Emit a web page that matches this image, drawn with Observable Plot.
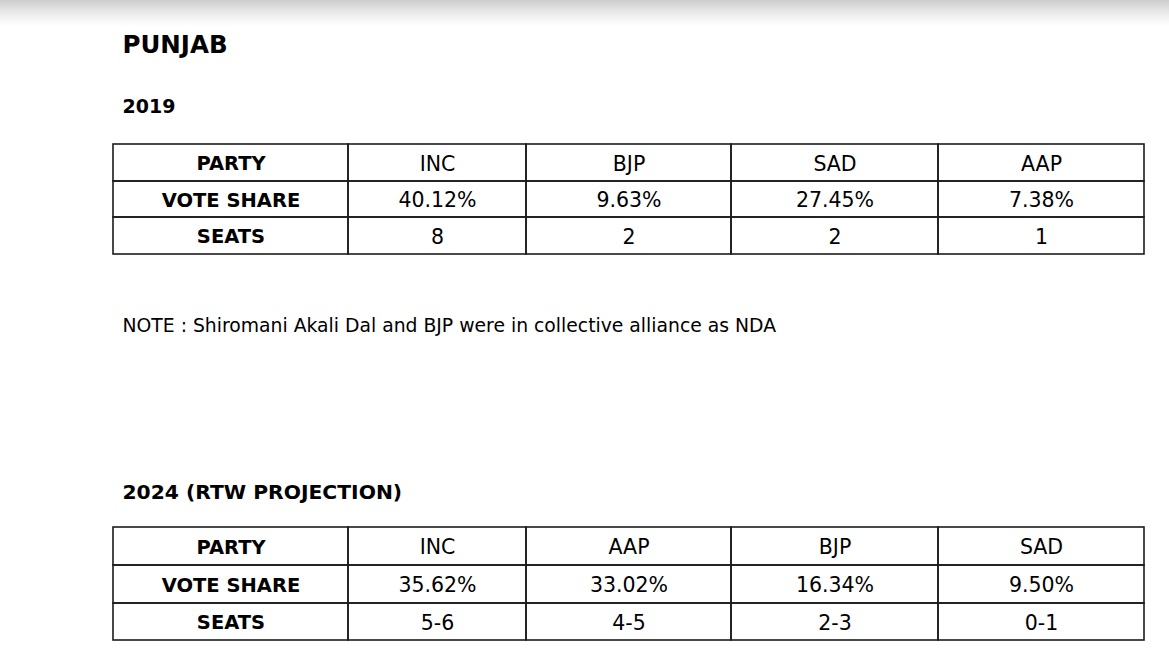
<!DOCTYPE html>
<html>
<head>
<meta charset="utf-8">
<script src="https://cdn.jsdelivr.net/npm/d3@7"></script>
<script src="https://cdn.jsdelivr.net/npm/@observablehq/plot@0.6"></script>
<style>
  html, body { margin: 0; padding: 0; }
  body {
    width: 1169px; height: 669px; overflow: hidden;
    background: linear-gradient(to bottom, #cdcdcd 0px, #ececec 14px, #ffffff 26px) no-repeat;
    background-color: #fff;
  }
  #chart svg { display: block; }
</style>
</head>
<body>
<div id="chart"></div>
<script>
// ---- data ----
const stateName = "PUNJAB";
const section2019 = "2019";
const section2024 = "2024 (RTW PROJECTION)";
const rowLabels = ["PARTY", "VOTE SHARE", "SEATS"];
const parties2019 = ["INC", "BJP", "SAD", "AAP"];
const voteShare2019 = [40.12, 9.63, 27.45, 7.38];
const seats2019 = ["8", "2", "2", "1"];
const note2019 = "NOTE : Shiromani Akali Dal and BJP were in collective alliance as NDA";
const parties2024 = ["INC", "AAP", "BJP", "SAD"];
const voteShare2024 = [35.62, 33.02, 16.34, 9.50];
const seats2024 = ["5-6", "4-5", "2-3", "0-1"];

// ---- layout (pixel positions) ----
const W = 1169, H = 669;
const colEdges = [113, 348, 526, 731, 938, 1144];
const rowEdges2019 = [144, 181, 217, 254];
const rowEdges2024 = [527, 565, 603, 640];
const textLeft = 122;
const fmtPct = v => d3.format(".2f")(v) + "%";

function buildTable(parties, shares, seats, rowEdges) {
  const rows = [parties, shares.map(fmtPct), seats];
  const cells = [];
  rows.forEach((vals, r) => {
    [rowLabels[r], ...vals].forEach((t, c) => {
      cells.push({
        x1: colEdges[c], x2: colEdges[c + 1],
        y1: rowEdges[r], y2: rowEdges[r + 1],
        xm: (colEdges[c] + colEdges[c + 1]) / 2,
        ym: (rowEdges[r] + rowEdges[r + 1]) / 2 + 1,
        text: t, bold: c === 0
      });
    });
  });
  return cells;
}

const cells = [
  ...buildTable(parties2019, voteShare2019, seats2019, rowEdges2019),
  ...buildTable(parties2024, voteShare2024, seats2024, rowEdges2024)
];

const titleRow = [{text: stateName, x: textLeft, y: 52}];
const heading2019 = [{text: section2019, x: textLeft, y: 112}];
const heading2024 = [{text: section2024, x: textLeft, y: 498}];
const notes = [{text: note2019, x: textLeft, y: 331}];

const chart = Plot.plot({
  width: W, height: H,
  marginTop: 0, marginRight: 0, marginBottom: 0, marginLeft: 0,
  x: {type: "linear", domain: [0, W], range: [0, W], axis: null},
  y: {type: "linear", domain: [0, H], range: [0, H], axis: null},
  style: {background: "transparent", fontFamily: "'DejaVu Sans', sans-serif", color: "#000"},
  marks: [
    Plot.rect(cells, {x1: "x1", x2: "x2", y1: "y1", y2: "y2", fill: "none", stroke: "#1c1c1c", strokeWidth: 1.6}),
    Plot.text(cells.filter(d => d.bold), {x: "xm", y: "ym", text: "text", fontSize: 19.5, fontWeight: "bold", fill: "#000", lineAnchor: "middle"}),
    Plot.text(cells.filter(d => !d.bold), {x: "xm", y: "ym", text: "text", fontSize: 20.5, fill: "#000", lineAnchor: "middle"}),
    Plot.text(titleRow, {x: "x", y: "y", text: "text", fontSize: 24.5, fontWeight: "bold", textAnchor: "start", lineAnchor: "bottom", fill: "#000"}),
    Plot.text(heading2019, {x: "x", y: "y", text: "text", fontSize: 19, fontWeight: "bold", textAnchor: "start", lineAnchor: "bottom", fill: "#000"}),
    Plot.text(heading2024, {x: "x", y: "y", text: "text", fontSize: 20.3, fontWeight: "bold", textAnchor: "start", lineAnchor: "bottom", fill: "#000"}),
    Plot.text(notes, {x: "x", y: "y", text: "text", fontSize: 18.8, textAnchor: "start", lineAnchor: "bottom", fill: "#000"})
  ]
});
document.getElementById("chart").appendChild(chart);
</script>
</body>
</html>
